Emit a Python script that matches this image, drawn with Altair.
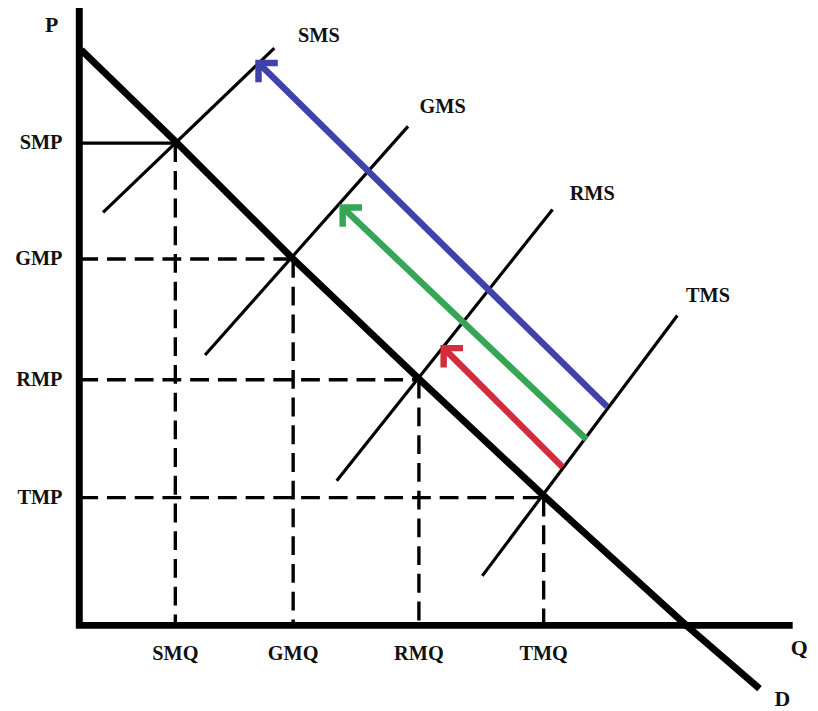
import altair as alt
import pandas as pd

# ---- values (Q, P in drawing units; origin = corner of the axes)
demand_q = [2, 98, 216, 344, 470, 613, 687]
demand_p = [581, 488, 370, 248, 130, 0, -64]

eq_q = [97, 216, 343, 469]
eq_p = [487, 370, 248, 129]
q_labels = ["SMQ", "GMQ", "RMQ", "TMQ"]
p_labels = ["SMP", "GMP", "RMP", "TMP"]

supply_names = ["SMS", "GMS", "RMS", "TMS"]
supply_q0 = [24, 127, 260, 407]
supply_p0 = [417, 273, 146, 50]
supply_q1 = [197, 332, 478, 604]
supply_p1 = [583, 504, 420, 313]
supply_label_q = [242, 367, 518, 635]
supply_label_p = [595, 523, 436, 333]

arrow_names = ["blue", "green", "red"]
arrow_tail_q = [533, 512, 488]
arrow_tail_p = [221, 188, 160]
arrow_tip_q = [181, 266, 368]
arrow_tip_p = [568, 422, 280]

axis_q = [0, 0, 717]
axis_p = [620, 0, 0]

axis_names = ["P", "Q", "D"]
axis_label_q = [-28, 727, 710]
axis_label_p = [606, -23, -74]

# ---- tables
demand = pd.DataFrame({"q": demand_q, "p": demand_p, "i": range(len(demand_q))})
axes = pd.DataFrame({"q": axis_q, "p": axis_p, "i": range(len(axis_q))})
eq = pd.DataFrame({"q": eq_q, "p": eq_p, "ql": q_labels, "pl": p_labels,
                   "zero": [0] * len(eq_q)})
supply = pd.DataFrame({"name": supply_names, "q0": supply_q0, "p0": supply_p0,
                       "q1": supply_q1, "p1": supply_p1,
                       "lq": supply_label_q, "lp": supply_label_p})
arrows = pd.DataFrame({"name": arrow_names, "tq": arrow_tail_q, "tp": arrow_tail_p,
                       "hq": arrow_tip_q, "hp": arrow_tip_p})
axlab = pd.DataFrame({"t": axis_names, "q": axis_label_q, "p": axis_label_p})

XS = alt.Scale(domain=[-72, 738], nice=False, zero=False)
YS = alt.Scale(domain=[-83, 620], nice=False, zero=False)


def X(f):
    return alt.X(f, type="quantitative", scale=XS, axis=None)


def Y(f):
    return alt.Y(f, type="quantitative", scale=YS, axis=None)


ARROW_COLOR = alt.Color("name:N", legend=None,
                        scale=alt.Scale(domain=arrow_names,
                                        range=["#4141ad", "#35a655", "#d22d3d"]))
FONT = "Liberation Serif"

solid_h = alt.Chart(eq.iloc[:1]).mark_rule(color="black", strokeWidth=3.2).encode(
    x=X("zero"), x2="q", y=Y("p"), y2="p")
dashed_h = alt.Chart(eq.iloc[1:]).mark_rule(
    color="black", strokeWidth=3.4, strokeDash=[19, 9]).encode(
    x=X("zero"), x2="q", y=Y("p"), y2="p")
dashed_v = alt.Chart(eq).mark_rule(
    color="black", strokeWidth=3.4, strokeDash=[19, 9]).encode(
    x=X("q"), x2="q", y=Y("p"), y2="zero")

axis_lines = alt.Chart(axes).mark_line(
    color="black", strokeWidth=7, strokeJoin="miter", strokeCap="square").encode(
    x=X("q"), y=Y("p"), order="i:Q")

supply_lines = alt.Chart(supply).mark_rule(color="black", strokeWidth=3.2).encode(
    x=X("q0"), y=Y("p0"), x2="q1", y2="p1")

demand_line = alt.Chart(demand).mark_line(
    color="black", strokeWidth=7, strokeJoin="round", strokeCap="butt").encode(
    x=X("q"), y=Y("p"), order="i:Q")

shafts = alt.Chart(arrows).mark_rule(strokeWidth=6.5, strokeCap="butt").encode(
    x=X("tq"), y=Y("tp"), x2="hq", y2="hp", color=ARROW_COLOR)

heads = alt.Chart(arrows).mark_point(
    shape="M -1 1 L 0 0 L 1 1", size=760, filled=False, strokeWidth=6.5,
    angle=315, opacity=1, strokeJoin="miter", strokeCap="butt").encode(
    x=X("hq"), y=Y("hp"), color=ARROW_COLOR)

txt = dict(font=FONT, fontWeight="bold", fontSize=20.5, color="#111111")

p_text = alt.Chart(eq).mark_text(align="right", baseline="middle", dx=-17, **txt).encode(
    x=X("zero"), y=Y("p"), text="pl:N")
q_text = alt.Chart(eq).mark_text(align="center", baseline="middle", dy=29, **txt).encode(
    x=X("q"), y=Y("zero"), text="ql:N")
s_text = alt.Chart(supply).mark_text(align="center", baseline="middle", **txt).encode(
    x=X("lq"), y=Y("lp"), text="name:N")
a_text = alt.Chart(axlab).mark_text(align="center", baseline="middle",
                                     font=FONT, fontWeight="bold", fontSize=22,
                                     color="#111111").encode(
    x=X("q"), y=Y("p"), text="t:N")

chart = alt.layer(
    dashed_h, dashed_v, solid_h, supply_lines, demand_line, axis_lines,
    shafts, heads, p_text, q_text, s_text, a_text,
).properties(
    width=810, height=703, padding=0,
    autosize=alt.AutoSizeParams(type="none"),
    background="white",
).configure_view(stroke=None)

chart.save("out.html", embed_options={"renderer": "svg", "actions": False})
